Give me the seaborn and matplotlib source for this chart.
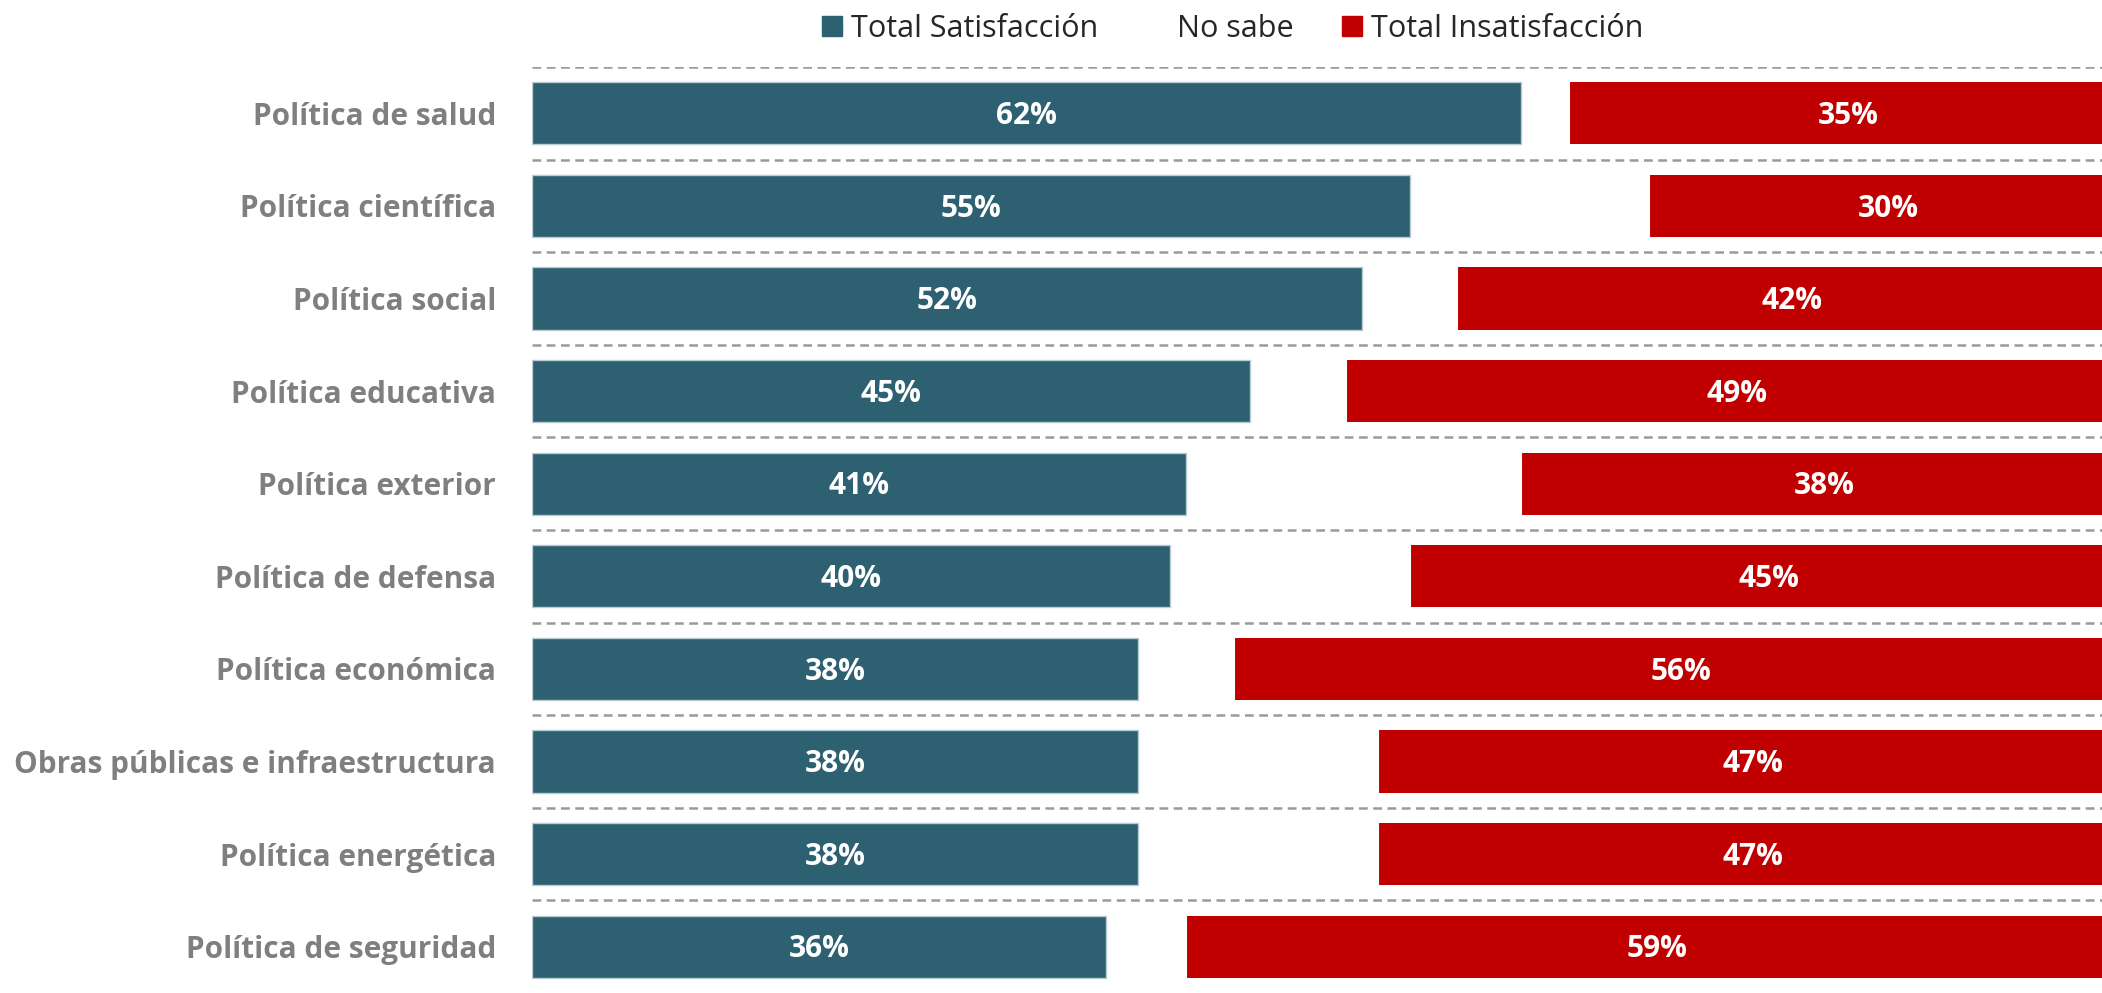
import numpy as np
import matplotlib
matplotlib.use("Agg")
import matplotlib.pyplot as plt
import seaborn as sns
from matplotlib.patches import Patch

# ================= DATA =================

categorias = [
    "Política de salud",
    "Política científica",
    "Política social",
    "Política educativa",
    "Política exterior",
    "Política de defensa",
    "Política económica",
    "Obras públicas e infraestructura",
    "Política energética",
    "Política de seguridad",
]
satisfaccion = [62, 55, 52, 45, 41, 40, 38, 38, 38, 36]
no_sabe = [3, 15, 6, 6, 21, 15, 6, 15, 15, 5]
insatisfaccion = [35, 30, 42, 49, 38, 45, 56, 47, 47, 59]

series = ["Total Satisfacción", "No sabe", "Total Insatisfacción"]

# ================= STYLE =================

TEAL = "#2D6071"
RED = "#C00000"
GRAY = "#7F7F7F"

sns.set_style("white")
plt.rcParams['font.family'] = ['Open Sans', 'DejaVu Sans']

sat = np.array(satisfaccion)
ns = np.array(no_sabe)
ins = np.array(insatisfaccion)

# ================= PLOT =================

fig = plt.figure(figsize=(21.02, 9.93), dpi=100)
ax = fig.add_axes([532 / 2102, 0.0, 1 - 532 / 2102, 1 - 67 / 993])

bar_w = 0.67

# stacked bars drawn as cumulative layers
sns.barplot(x=sat + ns + ins, y=categorias, color=RED, width=bar_w,
            orient="h", ax=ax, linewidth=0, saturation=1)
sns.barplot(x=sat + ns, y=categorias, color="white", width=bar_w,
            orient="h", ax=ax, edgecolor="white", linewidth=1.5, saturation=1)
sns.barplot(x=sat, y=categorias, color=TEAL, width=bar_w,
            orient="h", ax=ax, edgecolor="#b9cbd2", linewidth=1, saturation=1)

ax.set_xlim(0, 98.4)
ax.set_ylim(len(categorias) - 0.5, -0.5)

# dashed separators
for i in range(len(categorias)):
    ax.axhline(i - 0.5, color="#9a9a9a", linestyle=(0, (3.5, 2.2)),
               linewidth=1.8, zorder=0)

# value labels
for i in range(len(categorias)):
    ax.text(sat[i] / 2, i + 0.03, f"{sat[i]}%", ha="center", va="center",
            color="white", fontsize=21.5, fontweight="bold")
    ax.text(sat[i] + ns[i] + ins[i] / 2, i + 0.03, f"{ins[i]}%", ha="center",
            va="center", color="white", fontsize=21.5, fontweight="bold")

ax.set_xlabel("")
ax.set_ylabel("")
ax.set_xticks([])
ax.tick_params(axis="y", length=0, pad=26)
for lab in ax.get_yticklabels():
    lab.set_fontsize(21.4)
    lab.set_fontweight("bold")
    lab.set_color(GRAY)

sns.despine(ax=ax, left=True, bottom=True)

# legend
handles = [
    Patch(facecolor=TEAL, edgecolor=TEAL),
    Patch(facecolor="white", edgecolor="white"),
    Patch(facecolor=RED, edgecolor=RED),
]
fig.legend(handles, series, loc="center", bbox_to_anchor=(1233 / 2102, 1 - 29 / 993),
           ncol=3, frameon=False, fontsize=22, handlelength=0.65,
           handleheight=0.65, handletextpad=0.3, columnspacing=1.6,
           labelcolor="#262626")

fig.savefig("out.png", dpi=100)
